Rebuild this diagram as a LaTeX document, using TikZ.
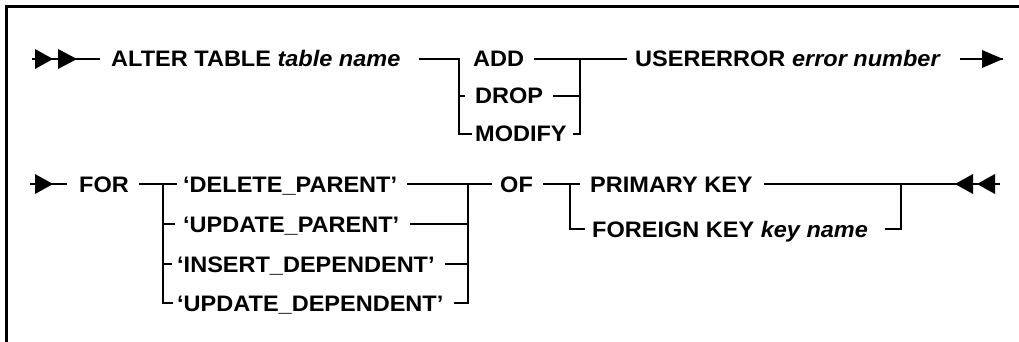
\documentclass[tikz,border=0pt]{standalone}
\usepackage{fontspec}
\setmainfont{Liberation Sans}[FakeStretch=1.05]
\usepackage{tikz}
\usetikzlibrary{positioning, calc}

\begin{document}
\begin{tikzpicture}[x=1pt, y=-1pt,
  kw/.style={font=\fontsize{22.4}{26}\selectfont\bfseries, inner sep=0pt,
    text height=16pt, text depth=0pt, anchor=west},
  rail/.style={line width=2pt},
  frame/.style={line width=3pt}
]
\useasboundingbox (0,0) rectangle (1019,342);

% Frame
\draw[frame] (1019,7) -- (6,7) -- (6,342);

% First line
\coordinate (in1)  at (32,59);
\coordinate (b1)   at (459,59);
\coordinate (m1)   at (580,59);
\coordinate (out1) at (1003,59);

\node[kw] (alter)  at (111,59) {ALTER TABLE \textit{table name}};
\node[kw] (add)    at (473,59) {ADD};
\node[kw] (drop)   at (475,96) {DROP};
\node[kw] (modify) at (475,134) {MODIFY};
\node[kw] (userr)  at (635,59) {USERERROR \textit{error number}};

\draw[rail] (in1) -- ([xshift=-11pt]alter.west);
\draw[rail] ([xshift=18pt]alter.east) -- (b1) |- ([xshift=-3pt]modify.west);
\draw[rail] (b1 |- drop) -- ++(6,0);
\draw[rail] ([xshift=10pt]add.east) -- (m1) -- ([xshift=-8pt]userr.west);
\draw[rail] ([xshift=10pt]drop.east) -- (m1 |- drop);
\draw[rail] ([xshift=6pt]modify.east) -- (m1 |- modify) -- (m1);
\draw[rail] ([xshift=19pt]userr.east) -- (out1);

% Start and end marks of the first line
\begin{scope}[shift={(in1)}]
  \fill (3,-10) -- (21,0) -- (3,10) -- cycle;
  \fill (26,-10) -- (45,0) -- (26,10) -- cycle;
\end{scope}
\begin{scope}[shift={(out1)}]
  \fill (-21,-9) -- (0,0) -- (-21,9) -- cycle;
\end{scope}

% Second line
\coordinate (in2)  at (30,184);
\coordinate (b2)   at (163,184);
\coordinate (m2)   at (468,184);
\coordinate (b3)   at (570,184);
\coordinate (m3)   at (901,184);
\coordinate (out2) at (1000,184);

\node[kw] (for)  at (79,184)  {FOR};
\node[kw] (delp) at (183,184) {‘DELETE\_PARENT’};
\node[kw] (updp) at (183,224) {‘UPDATE\_PARENT’};
\node[kw] (insd) at (177,264) {‘INSERT\_DEPENDENT’};
\node[kw] (updd) at (177,303) {‘UPDATE\_DEPENDENT’};
\node[kw] (of)   at (500,184) {OF};
\node[kw] (pk)   at (590,184) {PRIMARY KEY};
\node[kw] (fk)   at (592,229) {FOREIGN KEY \textit{key name}};

\draw[rail] (in2) -- ([xshift=-12pt]for.west);
\draw[rail] ([xshift=10pt]for.east) -- (b2) -- ([xshift=-6pt]delp.west);
\draw[rail] (b2) |- ([xshift=-4pt]updd.west);
\draw[rail] (b2 |- updp) -- ++(12,0);
\draw[rail] (b2 |- insd) -- ++(9,0);
\draw[rail] ([xshift=10pt]delp.east) -- (m2) -- ([xshift=-8pt]of.west);
\draw[rail] ([xshift=11pt]updp.east) -- (m2 |- updp);
\draw[rail] ([xshift=10pt]insd.east) -- (m2 |- insd);
\draw[rail] ([xshift=10pt]updd.east) -- (m2 |- updd) -- (m2);
\draw[rail] ([xshift=10pt]of.east) -- (b3) -- ([xshift=-10pt]pk.west);
\draw[rail] (b3) |- ([xshift=-7pt]fk.west);
\draw[rail] ([xshift=11pt]pk.east) -- (out2);
\draw[rail] ([xshift=17pt]fk.east) -- (m3 |- fk) -- (m3);

% Start and end marks of the second line
\begin{scope}[shift={(in2)}]
  \fill (5,-10) -- (23,0) -- (5,10) -- cycle;
\end{scope}
\begin{scope}[shift={(out2)}]
  \fill (-45,0) -- (-27,-10) -- (-27,10) -- cycle;
  \fill (-23,0) -- (-5,-10) -- (-5,10) -- cycle;
\end{scope}

\end{tikzpicture}
\end{document}
